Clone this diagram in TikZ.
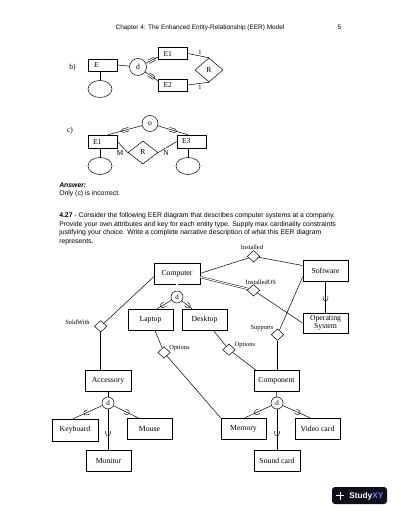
\documentclass[tikz,border=0pt]{standalone}
\usepackage{fontspec}
\setmainfont{Liberation Serif}
\newfontfamily\arialf{Liberation Sans}
\usetikzlibrary{shapes.geometric,decorations.markings}
\newcommand\hdrfont{\arialf\fontsize{6.45}{7.5}\selectfont}
\newcommand\txtpfont{\arialf\fontsize{6.85}{8.4}\selectfont}
\tikzset{
  ent/.style={draw, minimum width=45.5, minimum height=21, inner sep=0pt, align=center, font=\fontsize{7.75}{9}\selectfont},
  sbox/.style={draw, minimum height=12, inner ysep=0pt, inner xsep=5pt, text width=19pt, align=left, font=\fontsize{7.6}{9}\selectfont},
  att/.style={draw, ellipse, minimum width=24, minimum height=17, inner sep=0pt},
  dcirc/.style={draw, circle, minimum size=12, inner sep=0pt, font=\fontsize{7}{8}\selectfont},
  bigcirc/.style={draw, circle, minimum size=17, inner sep=0pt, font=\fontsize{7.6}{9}\selectfont},
  rel/.style={draw, diamond, minimum width=12.5, minimum height=11.5, inner sep=0pt},
  rbig/.style={draw, diamond, minimum width=28, minimum height=24, inner sep=0pt, font=\fontsize{7.6}{9}\selectfont},
  lbl/.style={inner sep=0pt, font=\fontsize{7.6}{9}\selectfont},
  slbl/.style={inner sep=0pt, font=\fontsize{6.4}{7.5}\selectfont},
  dbl/.style={double, double distance=1.1pt, line width=0.45pt},
  cupat/.style={postaction={decorate,decoration={markings,mark=at position #1 with {\draw[line width=0.45pt] (-2.5,2.3) -- (0,2.3) .. controls (3.07,2.3) and (3.07,-2.3) .. (0,-2.3) -- (-2.5,-2.3);}}}},
  longcup/.style={postaction={decorate,decoration={markings,mark=at position #1 with {\draw[line width=0.45pt] (-4,1.8) -- (2,1.8) .. controls (4.4,1.8) and (4.4,-1.8) .. (2,-1.8) -- (-4,-1.8);}}}}
}
\begin{document}
\begin{tikzpicture}[x=1pt,y=-1pt,line width=0.5pt]
\fill[white] (0,0) rectangle (400,518);
\useasboundingbox (0,0) rectangle (400,518);

% header
\node[anchor=base, inner sep=0pt, font=\hdrfont] (hdr) at (200,30) {Chapter 4: The Enhanced Entity-Relationship (EER) Model};
\node[anchor=base, inner sep=0pt, font=\hdrfont] (pg) at (339.5,30) {5};

% ---- b)
\node[lbl] (blab) at (72.5,68) {b)};
\node[sbox, inner xsep=6pt, text width=17pt] (E) at (102.5,65) {E};
\node[att] (Ea) at (100,89) {};
\node[bigcirc] (dd) at (138,67) {d};
\node[sbox] (E1) at (173,53.5) {E1};
\node[sbox] (E2) at (173,85) {E2};
\node[rbig] (R) at (209,70) {R};
\draw (E.south -| Ea.north) -- (Ea.north);
\draw (E.east) -- (dd);
\draw[longcup=0.5] (dd) -- ([yshift=-3.5pt]E1.west);
\draw[longcup=0.5] (dd) -- ([yshift=4pt]E2.west);
\draw (E1.east) -- (R.north);
\draw (E2.east) -- (R.south);
\node[slbl] (one1) at (200,52) {1};
\node[slbl] (one2) at (200,87) {1};

% ---- c)
\node[lbl] (clab) at (70,131) {c)};
\node[bigcirc, minimum size=16] (o) at (150,123.5) {o};
\node[sbox, minimum height=13] (cE1) at (102.5,141.5) {E1};
\node[sbox, minimum height=13] (cE3) at (191.5,141.5) {E3};
\node[rbig, minimum width=30, minimum height=23] (cR) at (143,152.5) {R};
\node[att] (cE1a) at (100,166) {};
\node[att] (cE3a) at (188,166) {};
\draw[longcup=0.5] (o) -- ([xshift=5.5pt]cE1.north);
\draw[longcup=0.5] (o) -- ([xshift=-3.5pt]cE3.north);
\draw (cE1.east) -- (cR.west);
\draw (cE3.west) -- (cR.east);
\draw (cE1.south -| cE1a.north) -- (cE1a.north);
\draw (cE3.south -| cE3a.north) -- (cE3a.north);
\node[lbl] (M) at (120,153.5) {M};
\node[lbl] (N) at (166,153.5) {N};

% ---- answer text
\node[anchor=base west, inner sep=0pt, font=\txtpfont] (ans) at (59,187.5) {\bfseries\itshape Answer:};
\node[anchor=base west, inner sep=0pt, font=\txtpfont] (ans2) at (59,196) {Only (c) is incorrect.};
\node[anchor=base west, inner sep=0pt, font=\txtpfont] (p1) at (59,218) {\textbf{4.27} - Consider the following EER diagram that describes computer systems at a company.};
\node[anchor=base west, inner sep=0pt, font=\txtpfont] (p2) at (59,226.4) {Provide your own attributes and key for each entity type. Supply max cardinality constraints};
\node[anchor=base west, inner sep=0pt, font=\txtpfont] (p3) at (59,234.8) {justifying your choice. Write a complete narrative description of what this EER diagram};
\node[anchor=base west, inner sep=0pt, font=\txtpfont] (p4) at (59,243.2) {represents.};

% ---- main diagram
\node[ent] (Computer) at (177,273.5) {Computer};
\node[ent] (Software) at (325.5,270.5) {Software};
\node[ent, minimum height=20] (OS) at (325.5,323) {Operating\\[-0.6pt]System};
\node[ent] (Laptop) at (150.5,319.5) {Laptop};
\node[ent] (Desktop) at (204.5,319.5) {Desktop};
\node[ent] (Accessory) at (108,380.5) {Accessory};
\node[ent] (Component) at (276.5,380.5) {Component};
\node[ent, minimum height=22] (Keyboard) at (75,430) {Keyboard};
\node[ent] (Mouse) at (149.5,428.5) {Mouse};
\node[ent] (Monitor) at (108.5,460.5) {Monitor};
\node[ent] (Memory) at (243.5,428.5) {Memory};
\node[ent] (Video) at (317.5,428.5) {Video card};
\node[ent] (Sound) at (277,460.5) {Sound card};

\node[dcirc] (dC) at (177,297) {d};
\node[dcirc] (dA) at (108,403) {d};
\node[dcirc] (dK) at (277,403) {d};

\node[rel] (Inst) at (253.5,256.3) {};
\node[rel] (InstOS) at (253.5,290.3) {};
\node[rel] (Supp) at (277.5,334.7) {};
\node[rel] (Opt2) at (229,349.7) {};
\node[rel] (Opt1) at (164,352.5) {};
\node[rel] (Sold) at (100.7,326.3) {};

\node[slbl] (lInst) at (252,247) {Installed};
\node[slbl] (lInstOS) at (260.8,282.3) {InstalledOS};
\node[slbl] (lSupp) at (262,328.3) {Supports};
\node[slbl] (lOpt2) at (245,345) {Options};
\node[slbl] (lOpt1) at (179.5,347.7) {Options};
\node[slbl] (lSold) at (77.5,322) {SoldWith};

\draw (Computer.east) -- (Inst);
\draw (Inst) -- ([yshift=5pt]Software.west);
\draw[dbl] ([yshift=-3.5pt]Computer.east) -- (InstOS);
\draw (InstOS) -- (OS.west);
\draw[cupat=0.55] (Software.south) -- (OS.north);
\draw (Supp) -- ([yshift=4pt]Software.south west);
\draw (Supp) -- (Supp.south |- Component.north);
\draw (Desktop) -- (Opt2);
\draw (Opt2) -- ([xshift=2pt]Component.north west);
\draw (Laptop) -- (Opt1);
\draw (Opt1) -- (Memory.north west);
\draw ([yshift=-3pt]Computer.west) -- (Sold);
\draw (Sold) -- (Sold.south |- Accessory.north);

\draw[dbl] (Computer.south) -- (dC);
\draw[cupat=0.6] (dC) -- ([xshift=6.5pt]Laptop.north);
\draw[cupat=0.6] (dC) -- ([xshift=-12.5pt]Desktop.north);

\draw (Accessory.south) -- (dA);
\draw[cupat=0.55] (dA) -- ([xshift=-2pt]Keyboard.north);
\draw[cupat=0.55] (dA) -- ([xshift=-11.5pt]Mouse.north);
\draw[cupat=0.6] (dA) -- (dA |- Monitor.north);

\draw (Component.south) -- (dK);
\draw[cupat=0.55] (dK) -- ([xshift=1.5pt]Memory.north);
\draw[cupat=0.55] (dK) -- ([xshift=-7.5pt]Video.north);
\draw[cupat=0.6] (dK) -- (dK |- Sound.north);

% ---- logo
\node[fill={rgb,255:red,16;green,16;blue,28}, rounded corners=3pt, minimum width=55, minimum height=17, inner sep=0pt] (logo) at (359.5,495.5) {};
\node[anchor=west, inner sep=0pt, font=\arialf\bfseries\fontsize{8.3}{9}\selectfont, text=white] (logotxt) at (349,496) {Study\textcolor[RGB]{120,110,240}{XY}};
\draw[white, line width=0.5pt] ([xshift=4pt]logo.west) -- ([xshift=12pt]logo.west);
\draw[white, line width=0.5pt] ([xshift=8pt,yshift=4pt]logo.west) -- ([xshift=8pt,yshift=-4pt]logo.west);
\end{tikzpicture}
\end{document}
